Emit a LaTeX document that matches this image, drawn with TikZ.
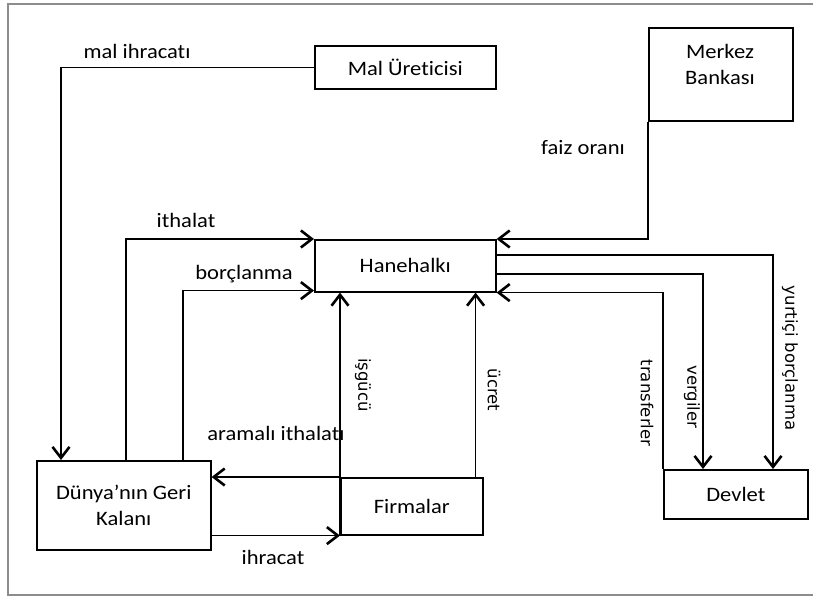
\documentclass[tikz,border=0pt]{standalone}
\usepackage{fontspec}
\setmainfont[FakeStretch=1.1,Ligatures={NoCommon}]{Carlito}
\newfontfamily\vfont{DejaVu Sans}
\usetikzlibrary{arrows.meta}
\tikzset{
  box/.style={draw,line width=1.6pt,anchor=north west,inner sep=0pt},
  lbl/.style={font=\fontsize{20.5}{26}\selectfont},
  vlbl/.style={font=\vfont\fontsize{16.5}{20}\selectfont,rotate=-90},
  flow/.style={line width=1.6pt,-{Straight Barb[length=11pt,width=17pt,line width=2.6pt]}},
}
\begin{document}
\begin{tikzpicture}[x=1pt,y=-1pt]
\useasboundingbox (0,0) rectangle (813,597);
\draw [black!45,line width=2.5pt] (830,4) -- (8,4) -- (8,595) -- (830,595);

\node [box,lbl,minimum width=181,minimum height=43] (mu) at (314,45) {Mal Üreticisi};
\node [box,minimum width=144,minimum height=93] (mb) at (648,27) {};
\node [lbl,align=center] (mbt) at (720,64) {Merkez\\Bankası};
\node [box,lbl,minimum width=181,minimum height=52] (hh) at (314,239) {Hanehalkı};
\node [box,lbl,align=center,minimum width=174,minimum height=89] (dk) at (36,460) {Dünya’nın Geri\\Kalanı};
\node [box,lbl,minimum width=142,minimum height=57] (fi) at (340,477) {Firmalar};
\node [box,lbl,minimum width=144,minimum height=49] (dv) at (663,469) {Devlet};

\node [lbl] (lmi) at (137,51) {mal ihracatı};
\node [lbl] (lfo) at (583,148) {faiz oranı};
\node [lbl] (lit) at (186,220) {ithalat};
\node [lbl] (lbo) at (244,274) {borçlanma};
\node [lbl] (lai) at (276,433) {aramalı ithalatı};
\node [lbl] (lih) at (273,557) {ihracat};
\node [vlbl] (lis) at (363,385) {işgücü};
\node [vlbl] (luc) at (494,390) {ücret};
\node [vlbl] (ltr) at (647,403) {transferler};
\node [vlbl] (lve) at (692,397) {vergiler};
\node [vlbl] (lyb) at (790,358) {yurtiçi borçlanma};

\draw [flow] (mu.west) -| ([xshift=25pt]dk.north west);
\draw [flow] ([xshift=90pt]dk.north west) |- (hh.north west);
\draw [flow] ([xshift=147pt]dk.north west) |- ([yshift=2pt]hh.south west);
\draw [flow] (mb.south west) |- (hh.north east);
\draw [flow] ([yshift=-16pt]hh.north east) -| ([xshift=110pt]dv.north west);
\draw [flow] ([yshift=-35pt]hh.north east) -| ([xshift=40pt]dv.north west);
\draw [flow] (dv.north west) |- (hh.south east);
\draw [flow] (fi.south west) -- (fi.south west |- hh.south);
\draw [flow] ([xshift=-8pt]fi.north east) -- ([xshift=-8pt]fi.north east |- hh.south);
\draw [flow] (fi.north west) -- (fi.north west -| dk.east);
\draw [flow] (dk.east |- fi.south) -- (fi.south west);
\end{tikzpicture}
\end{document}
